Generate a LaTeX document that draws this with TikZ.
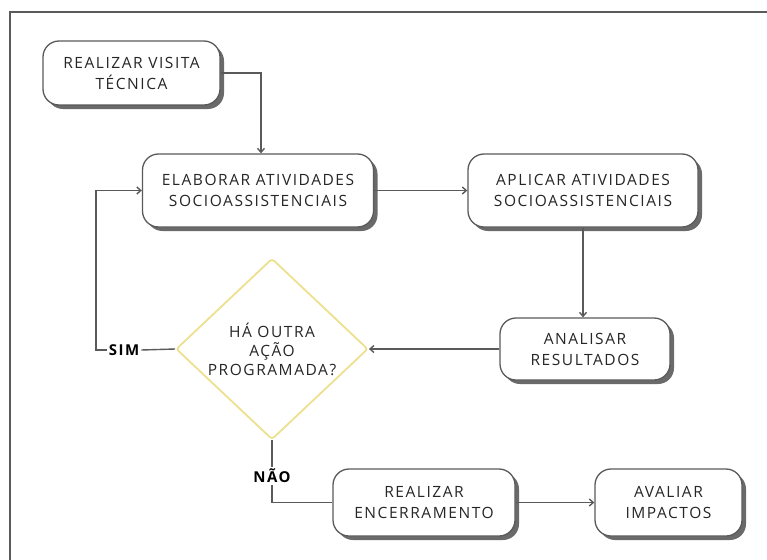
\documentclass[tikz,border=0pt]{standalone}
\usepackage{fontspec}
\setmainfont{Open Sans}[LetterSpace=10]
\usepackage{tikz}
\usetikzlibrary{shapes.geometric,shadows,arrows.meta}

\definecolor{linha}{HTML}{5A5A5A}
\definecolor{sombra}{HTML}{6A6A6A}
\definecolor{texto}{HTML}{262626}
\definecolor{losango}{HTML}{EDE08E}

\begin{document}
\begin{tikzpicture}[x=1pt, y=-1pt,
  etapa/.style={draw=linha, line width=1.3pt, fill=white, rounded corners=16pt,
    align=center, text=texto, font=\fontsize{15.5}{21}\selectfont, inner sep=0pt,
    drop shadow={shadow xshift=4pt, shadow yshift=-4pt, fill=sombra, opacity=1}},
  decisao/.style={draw=losango, line width=1.8pt, fill=white, shape=diamond,
    rounded corners=3pt, align=center, text=texto, inner sep=0pt,
    font=\fontsize{15.5}{19}\selectfont},
  rotulo/.style={font=\fontsize{15}{16}\selectfont\bfseries, text=black, inner sep=2pt},
  seta/.style={draw=linha, line width=1.4pt, -{Straight Barb[length=4pt,width=7pt]}},
  liga/.style={draw=linha, line width=1.4pt}
  ]
  \useasboundingbox (0,0) rectangle (767,559);
  % moldura
  \draw[linha, line width=2.5pt] (10,562) -- (10,12) -- (770,12);

  \node[etapa, minimum width=177pt, minimum height=64pt] (visita) at (131.5,73)
    {REALIZAR VISITA\\TÉCNICA};
  \node[etapa, minimum width=231pt, minimum height=73pt] (elaborar) at (258,190.5)
    {ELABORAR ATIVIDADES\\SOCIOASSISTENCIAIS};
  \node[etapa, minimum width=230pt, minimum height=73pt] (aplicar) at (583,190.5)
    {APLICAR ATIVIDADES\\SOCIOASSISTENCIAIS};
  \node[etapa, minimum width=170pt, minimum height=62pt] (analisar) at (585,349)
    {ANALISAR\\RESULTADOS};
  \node[decisao, minimum width=192pt, minimum height=172pt] (pergunta) at (272,349)
    {HÁ OUTRA\\AÇÃO\\PROGRAMADA?};
  \node[etapa, minimum width=182pt, minimum height=67pt] (encerrar) at (424,502.5)
    {REALIZAR\\ENCERRAMENTO};
  \node[etapa, minimum width=147pt, minimum height=67pt] (avaliar) at (668.5,502.5)
    {AVALIAR\\IMPACTOS};

  \node[rotulo] (sim) at (124,350) {SIM};
  \node[rotulo] (nao) at (272,476) {NÃO};

  % ligacoes
  \draw[seta] (visita.east) -| ([xshift=3pt]elaborar.north);
  \draw[seta] (elaborar.east) -- (aplicar.west);
  \draw[seta] (aplicar.south) -- (aplicar.south |- analisar.north);
  \draw[seta] (analisar.west) -- (pergunta.east);
  \draw[liga] (pergunta.west) -- (sim.east);
  \draw[seta] (sim.west) -| ([xshift=-46pt]elaborar.west) -- (elaborar.west);
  \draw[liga] (pergunta.south) -- (nao.north);
  \draw[liga] (nao.south) |- (encerrar.west);
  \draw[seta] (encerrar.east) -- (avaliar.west);
\end{tikzpicture}
\end{document}
